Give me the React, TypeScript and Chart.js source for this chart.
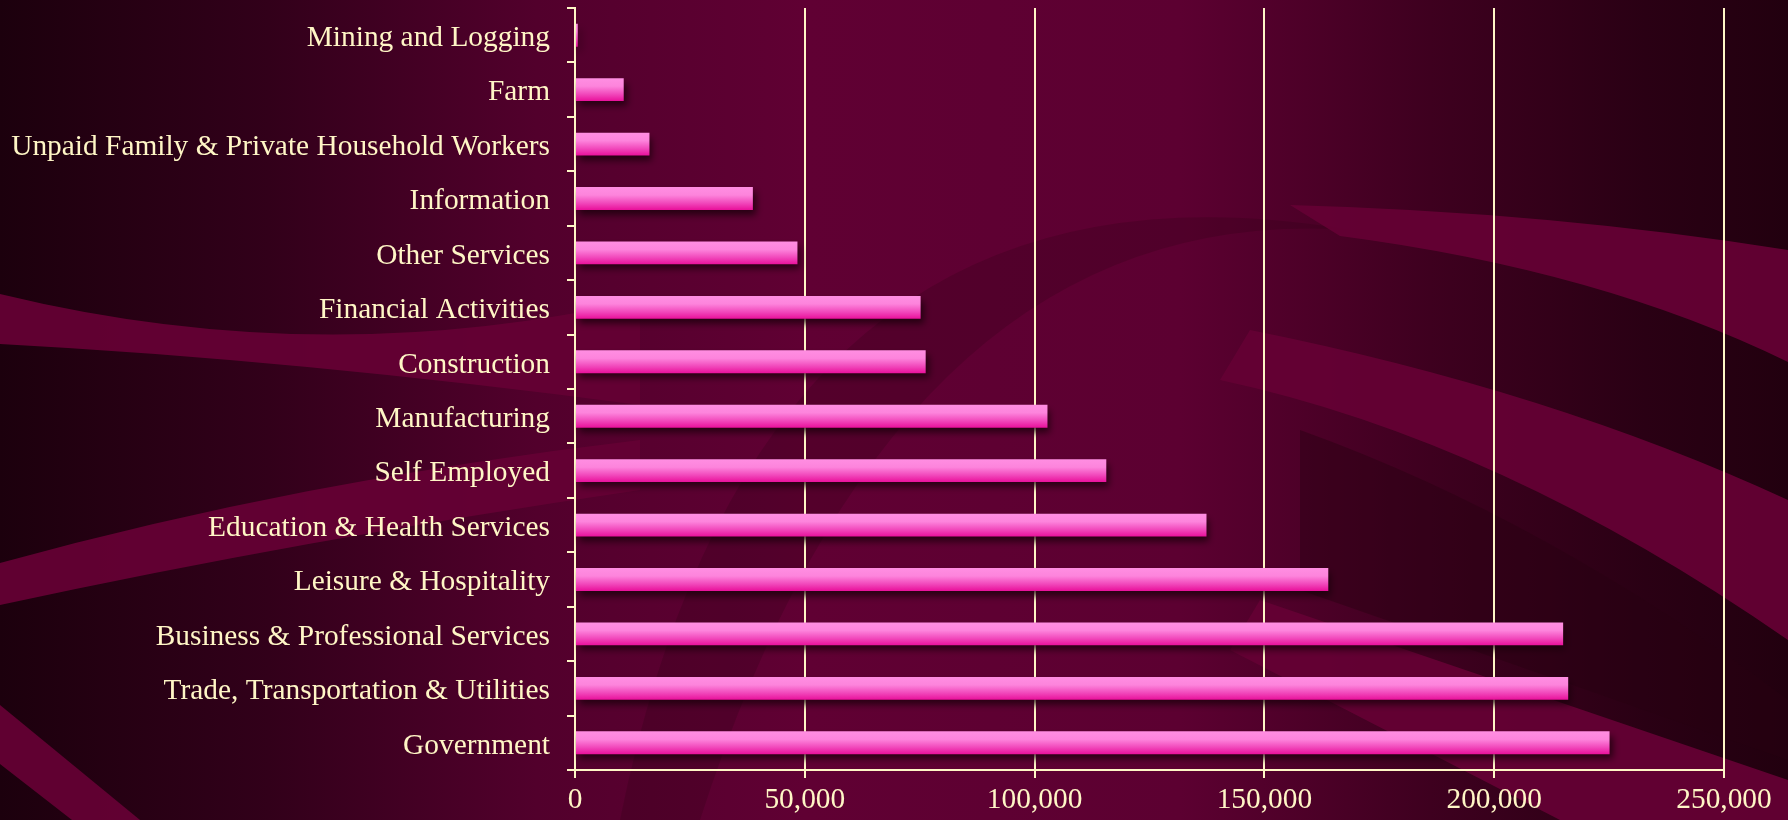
import React, { useEffect, useRef } from "react";
import { Chart, registerables } from "chart.js";

Chart.register(...registerables);

const categories: string[] = [
  "Mining and Logging",
  "Farm",
  "Unpaid Family & Private Household Workers",
  "Information",
  "Other Services",
  "Financial Activities",
  "Construction",
  "Manufacturing",
  "Self Employed",
  "Education & Health Services",
  "Leisure & Hospitality",
  "Business & Professional Services",
  "Trade, Transportation & Utilities",
  "Government",
];

const employment: number[] = [
  600, 10600, 16200, 38700, 48400, 75200, 76300, 102800, 115600, 137400, 163900, 215000, 216100, 225100,
];

const xMin = 0;
const xMax = 250000;
const xStep = 50000;

const CREAM = "#fff6c6";
const FONT = "'Liberation Serif', 'Times New Roman', serif";
const BAR_FRACTION = 0.42;

function drawBackground(ctx: CanvasRenderingContext2D, w: number, h: number) {
  ctx.save();
  const g = ctx.createLinearGradient(0, 0, w, 0);
  g.addColorStop(0, "#1c000d");
  g.addColorStop(0.15, "#32001a");
  g.addColorStop(0.3, "#52002c");
  g.addColorStop(0.45, "#600033");
  g.addColorStop(0.66, "#5c0031");
  g.addColorStop(0.8, "#3e001f");
  g.addColorStop(0.92, "#2a0014");
  g.addColorStop(1, "#22000f");
  ctx.fillStyle = g;
  ctx.fillRect(0, 0, w, h);

  const light = "rgba(100,0,52,0.95)";

  // left crescent band
  ctx.fillStyle = light;
  ctx.beginPath();
  ctx.moveTo(0, 294);
  ctx.quadraticCurveTo(320, 372, 640, 300);
  ctx.lineTo(640, 405);
  ctx.quadraticCurveTo(300, 360, 0, 344);
  ctx.closePath();
  ctx.fill();

  // left rising band
  ctx.beginPath();
  ctx.moveTo(0, 563);
  ctx.quadraticCurveTo(300, 480, 640, 440);
  ctx.lineTo(640, 490);
  ctx.quadraticCurveTo(300, 540, 0, 605);
  ctx.closePath();
  ctx.fill();

  // bottom-left diagonal band
  ctx.beginPath();
  ctx.moveTo(0, 705);
  ctx.lineTo(140, 820);
  ctx.lineTo(72, 820);
  ctx.lineTo(0, 764);
  ctx.closePath();
  ctx.fill();

  // subtle dark arc in the middle
  ctx.fillStyle = "rgba(40,0,18,0.22)";
  ctx.beginPath();
  ctx.moveTo(620, 820);
  ctx.quadraticCurveTo(760, 130, 1350, 230);
  ctx.quadraticCurveTo(900, 200, 700, 820);
  ctx.closePath();
  ctx.fill();

  // right light bands
  ctx.fillStyle = light;
  ctx.beginPath();
  ctx.moveTo(1290, 205);
  ctx.quadraticCurveTo(1550, 212, 1788, 250);
  ctx.lineTo(1788, 362);
  ctx.quadraticCurveTo(1600, 270, 1340, 236);
  ctx.closePath();
  ctx.fill();

  ctx.beginPath();
  ctx.moveTo(1250, 330);
  ctx.quadraticCurveTo(1550, 390, 1788, 500);
  ctx.lineTo(1788, 640);
  ctx.quadraticCurveTo(1500, 440, 1220, 380);
  ctx.closePath();
  ctx.fill();

  ctx.beginPath();
  ctx.moveTo(1260, 600);
  ctx.lineTo(1788, 780);
  ctx.lineTo(1788, 820);
  ctx.lineTo(1560, 820);
  ctx.lineTo(1230, 650);
  ctx.closePath();
  ctx.fill();

  // dark band between
  ctx.fillStyle = "rgba(40,0,18,0.45)";
  ctx.beginPath();
  ctx.moveTo(1300, 430);
  ctx.quadraticCurveTo(1550, 520, 1788, 700);
  ctx.lineTo(1788, 760);
  ctx.lineTo(1300, 590);
  ctx.closePath();
  ctx.fill();

  ctx.restore();
}

const backgroundPlugin = {
  id: "bgPlugin",
  beforeDraw(chart: any) {
    drawBackground(chart.ctx, chart.width, chart.height);
  },
};

const shadowPlugin = {
  id: "barShadow",
  beforeDatasetsDraw(chart: any) {
    const ctx = chart.ctx;
    ctx.save();
    ctx.shadowColor = "rgba(25,0,10,0.8)";
    ctx.shadowBlur = 7;
    ctx.shadowOffsetX = 3;
    ctx.shadowOffsetY = 5;
  },
  afterDatasetsDraw(chart: any) {
    chart.ctx.restore();
  },
};

export default function App() {
  const ref = useRef<HTMLCanvasElement | null>(null);

  useEffect(() => {
    document.body.style.margin = "0";
    document.body.style.background = "#22000f";
    const canvas = ref.current!;
    const chart = new Chart(canvas, {
      type: "bar",
      data: {
        labels: categories,
        datasets: [
          {
            data: employment,
            borderWidth: 0,
            barPercentage: BAR_FRACTION,
            categoryPercentage: 1,
            backgroundColor: (c: any) => {
              const ch = c.chart;
              const area = ch.chartArea;
              const ys = ch.scales?.y;
              if (!area || !ys) return "#f560c8";
              const band = (area.bottom - area.top) / categories.length;
              const h = band * BAR_FRACTION;
              const yc = ys.getPixelForValue(c.dataIndex);
              const gr = ch.ctx.createLinearGradient(0, yc - h / 2, 0, yc + h / 2);
              gr.addColorStop(0, "#ff8ee2");
              gr.addColorStop(0.35, "#fd84dc");
              gr.addColorStop(0.7, "#f148bb");
              gr.addColorStop(1, "#e9109b");
              return gr;
            },
          },
        ],
      },
      options: {
        indexAxis: "y",
        responsive: false,
        animation: false,
        devicePixelRatio: 1,
        layout: { padding: { left: 0, right: 64, top: 8, bottom: 0 } },
        plugins: {
          legend: { display: false },
          tooltip: { enabled: false },
          title: { display: false },
        },
        scales: {
          x: {
            type: "linear",
            min: xMin,
            max: xMax,
            afterFit: (s: any) => {
              s.height = 50;
            },
            ticks: {
              stepSize: xStep,
              color: CREAM,
              font: { family: FONT, size: 29.4 },
              padding: 5,
              maxRotation: 0,
              callback: (v: any) => Number(v).toLocaleString("en-US"),
            },
            grid: {
              color: CREAM,
              lineWidth: 2,
              tickLength: 8,
              drawTicks: true,
            },
            border: { display: true, color: CREAM, width: 2 },
          },
          y: {
            type: "category",
            afterFit: (s: any) => {
              s.width = 575;
              s.paddingTop = 0;
              s.paddingBottom = 0;
            },
            ticks: {
              color: CREAM,
              font: { family: FONT, size: 29.4 },
              padding: 17,
              labelOffset: 3,
              autoSkip: false,
            },
            grid: {
              offset: true,
              drawOnChartArea: false,
              color: CREAM,
              lineWidth: 2,
              tickLength: 8,
            },
            border: { display: true, color: CREAM, width: 2 },
          },
        },
      },
      plugins: [backgroundPlugin, shadowPlugin],
    } as any);
    return () => chart.destroy();
  }, []);

  return (
    <canvas
      ref={ref}
      width={1788}
      height={820}
      style={{ display: "block", width: "1788px", height: "820px" }}
    />
  );
}
